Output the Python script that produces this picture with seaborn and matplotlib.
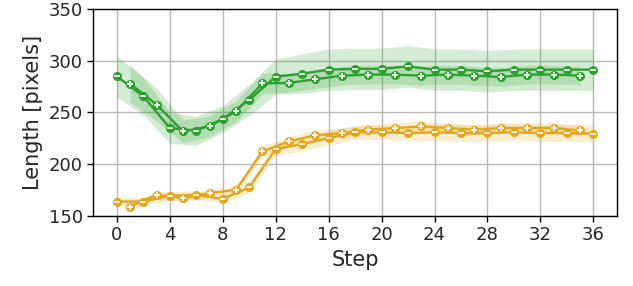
import numpy as np
import matplotlib
matplotlib.use("Agg")
import matplotlib.pyplot as plt
import seaborn as sns

# ---------------- data ----------------
steps_even = [0, 2, 4, 6, 8, 10, 12, 14, 16, 18, 20, 22, 24, 26, 28, 30, 32, 34, 36]
steps_odd = [1, 3, 5, 7, 9, 11, 13, 15, 17, 19, 21, 23, 25, 27, 29, 31, 33, 35]

green_even = [284.8, 265.5, 234.9, 232.3, 243.6, 262.0, 284.5, 287.4, 291.3, 292.0,
              292.0, 294.5, 291.3, 291.3, 289.7, 291.3, 291.3, 291.3, 291.3]
green_even_sd = [20, 18, 15, 14, 13, 15, 17, 19, 20, 20, 20, 20, 20, 20, 20, 20, 20, 20, 20]
green_odd = [277.8, 257.5, 231.6, 236.5, 251.0, 278.0, 278.5, 282.0, 285.5, 286.5,
             286.5, 285.5, 286.5, 285.5, 284.2, 286.5, 286.5, 285.5]
green_odd_sd = [18, 16, 11, 10, 10, 10, 9, 9, 9, 9, 9, 9, 9, 9, 9, 9, 9, 9]

orange_even = [163.9, 163.9, 169.4, 170.4, 166.2, 177.5, 214.6, 219.3, 225.2, 230.7,
               230.7, 230.0, 230.7, 230.0, 230.0, 230.7, 230.0, 230.0, 229.5]
orange_even_sd = [4, 4, 4, 4, 4, 5, 6, 6, 7, 7, 7, 7, 8, 8, 8, 8, 8, 8, 8]
orange_odd = [159.1, 170.4, 167.2, 172.0, 175.2, 212.3, 222.0, 228.0, 230.0, 233.3,
              234.9, 236.5, 234.9, 233.3, 234.9, 234.9, 234.9, 232.6]
orange_odd_sd = [3, 4, 4, 4, 4, 5, 5, 5, 5, 5, 5, 5, 5, 5, 5, 5, 5, 5]

green = "#2ca02c"
orange = "#e3a71f"

# ---------------- style ----------------
sns.set_style("ticks", {"axes.grid": True, "grid.color": "#b8b8b8",
                        "axes.edgecolor": "black"})
plt.rcParams["font.family"] = ["DejaVu Sans"]

fig, ax = plt.subplots(figsize=(6.33, 2.86), dpi=100)
fig.subplots_adjust(left=0.147, right=0.975, top=0.969, bottom=0.245)

series = [
    (steps_even, green_even, green_even_sd, green, "_"),
    (steps_odd, green_odd, green_odd_sd, green, "+"),
    (steps_even, orange_even, orange_even_sd, orange, "_"),
    (steps_odd, orange_odd, orange_odd_sd, orange, "+"),
]

# bands first
for x, y, sd, c, _ in series:
    y = np.array(y)
    sd = np.array(sd)
    ax.fill_between(x, y - sd, y + sd, color=c, alpha=0.2, lw=0)

# lines with filled circle markers + white glyph on top
for x, y, sd, c, glyph in series:
    sns.lineplot(x=x, y=y, ax=ax, color=c, lw=1.7, marker="o", markersize=6.5,
                 markeredgewidth=0, zorder=3)
    ax.plot(x, y, ls="none", marker=glyph, color="white", ms=4, mew=1.2, zorder=4)

ax.set_ylim(150, 350)
ax.set_xlim(-1.8, 37.8)
ax.set_xticks([0, 4, 8, 12, 16, 20, 24, 28, 32, 36])
ax.set_yticks([150, 200, 250, 300, 350])
ax.tick_params(labelsize=13, length=4, width=1, color="black")
ax.set_xlabel("Step", fontsize=15)
ax.set_ylabel("Length [pixels]", fontsize=15)
for s in ax.spines.values():
    s.set_linewidth(1.0)
ax.grid(True, lw=1, color="#b8b8b8")
ax.set_axisbelow(True)

fig.savefig("out.png", dpi=100)
